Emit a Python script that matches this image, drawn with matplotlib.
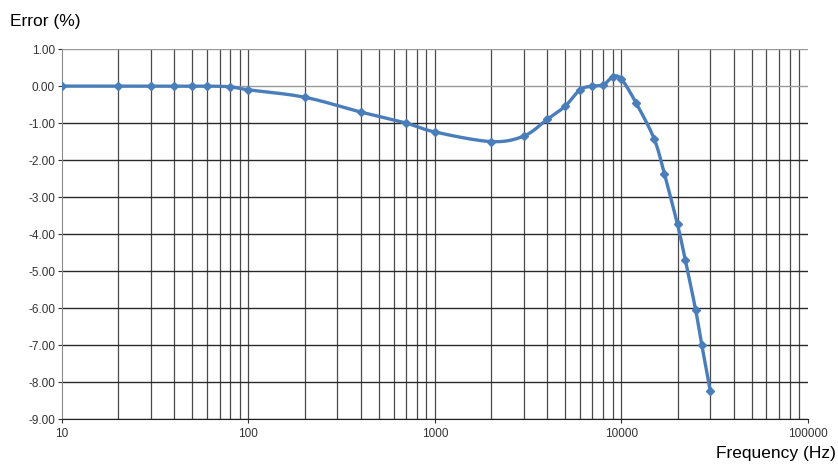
import matplotlib.pyplot as plt
import numpy as np
from matplotlib.ticker import FixedLocator, NullFormatter

# Frequency response error measurements
freq_hz = [10, 20, 30, 40, 50, 60, 80, 100, 200, 400, 700, 1000, 2000, 3000,
           4000, 5000, 6000, 7000, 8000, 9000, 10000, 12000, 15000, 17000,
           20000, 22000, 25000, 27000, 30000]
error_pct = [0.0, 0.0, 0.0, 0.0, 0.0, 0.0, -0.02, -0.1, -0.3, -0.7, -1.0, -1.24,
             -1.5, -1.35, -0.9, -0.54, -0.1, 0.0, 0.03, 0.25, 0.19, -0.46, -1.43,
             -2.37, -3.74, -4.69, -6.04, -7.0, -8.25]

y_ticks = [1, 0, -1, -2, -3, -4, -5, -6, -7, -8, -9]
x_ticks = [10, 100, 1000, 10000, 100000]
x_tick_labels = ["10", "100", "1000", "10000", "100000"]

plt.rcParams["font.family"] = ["Liberation Sans", "DejaVu Sans"]

LINE_BLUE = "#4a7ebb"


def smooth_curve(x, y, steps=20):
    """Catmull-Rom through the points, in log-frequency space (spreadsheet-style smoothed line)."""
    lx = np.log10(x)
    y = np.asarray(y, dtype=float)
    px = np.concatenate([[2 * lx[0] - lx[1]], lx, [2 * lx[-1] - lx[-2]]])
    py = np.concatenate([[2 * y[0] - y[1]], y, [2 * y[-1] - y[-2]]])
    out_x, out_y = [], []
    t = np.linspace(0, 1, steps, endpoint=False)
    for i in range(1, len(px) - 2):
        for arr, out in ((px, out_x), (py, out_y)):
            p0, p1, p2, p3 = arr[i - 1], arr[i], arr[i + 1], arr[i + 2]
            out.extend(0.5 * ((2 * p1) + (-p0 + p2) * t
                              + (2 * p0 - 5 * p1 + 4 * p2 - p3) * t ** 2
                              + (-p0 + 3 * p1 - 3 * p2 + p3) * t ** 3))
    out_x.append(lx[-1])
    out_y.append(y[-1])
    return 10 ** np.array(out_x), np.array(out_y)


fig = plt.figure(figsize=(8.38, 4.70), dpi=100)
ax = fig.add_axes([0.074, 0.1085, 0.890, 0.787])

ax.set_xscale("log")
ax.set_xlim(10, 100000)
ax.set_ylim(-9, 1)

# grid: decade + minor verticals, one horizontal per percent
minor_x = [m * 10 ** d for d in range(1, 5) for m in range(2, 10)]
for xv in minor_x + x_ticks[1:-1]:
    ax.axvline(xv, color="#4a4a4a", linewidth=0.9, zorder=1)
for yv in y_ticks:
    ax.axhline(yv, color="#2a2a2a" if yv < 0 else "#9a9a9a", linewidth=1.0, zorder=1)

sx, sy = smooth_curve(freq_hz, error_pct)
ax.plot(sx, sy, color=LINE_BLUE, linewidth=2.4, zorder=3, solid_capstyle="round")
ax.plot(freq_hz, error_pct, linestyle="none", marker="D", markersize=3.6,
        color=LINE_BLUE, zorder=4)

ax.yaxis.set_major_locator(FixedLocator(y_ticks))
ax.set_yticklabels([f"{v:.2f}" for v in y_ticks])
ax.xaxis.set_major_locator(FixedLocator(x_ticks))
ax.xaxis.set_minor_formatter(NullFormatter())
ax.set_xticklabels(x_tick_labels)
ax.tick_params(axis="both", which="major", labelsize=8.5, colors="#333333",
               length=3, width=0.8)
ax.tick_params(axis="y", pad=2)
ax.tick_params(axis="x", which="minor", length=0)

for side in ("top", "right"):
    ax.spines[side].set_visible(False)
ax.spines["left"].set_color("#8a8a8a")
ax.spines["bottom"].set_color("#222222")

fig.text(0.012, 0.955, "Error (%)", fontsize=12.5, ha="left", va="center")
fig.text(0.997, 0.035, "Frequency (Hz)", fontsize=12.5, ha="right", va="center")

fig.savefig("out.png", dpi=100)
